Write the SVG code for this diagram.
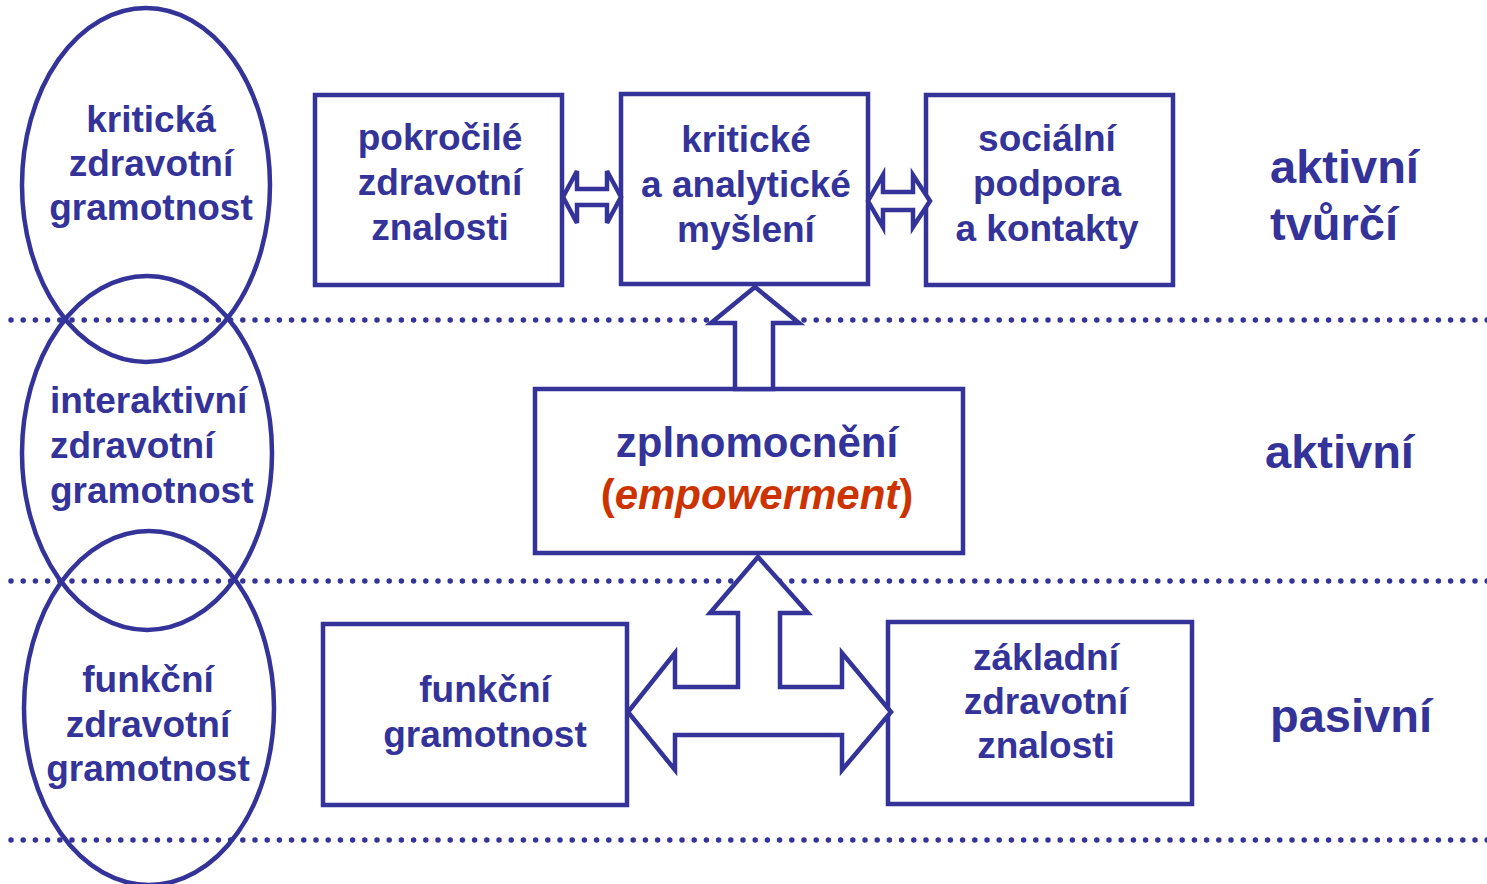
<svg xmlns="http://www.w3.org/2000/svg" width="1487" height="884" viewBox="0 0 1487 884">
<style>
.bg{fill:#fff}
.dot{stroke:#333399;stroke-width:5.5;stroke-linecap:round;stroke-dasharray:0 12.2;fill:none}
.ell{fill:none;stroke:#333399;stroke-width:4.5}
.box{fill:#fff;stroke:#333399;stroke-width:4.5}
.arr{fill:#fff;stroke:#333399;stroke-width:4.5;stroke-linejoin:miter}
text{font-family:"Liberation Sans",Arial,sans-serif;font-weight:bold;fill:#333399}
.t{font-size:37px;text-anchor:middle}
.tl{font-size:37px}
.side{font-size:47px}
.big{font-size:42px;text-anchor:middle}
.red{fill:#CC3300}
</style>
<rect class="bg" x="0" y="0" width="1487" height="884"/>
<g id="levels">
<line class="dot" x1="11" y1="320" x2="1490" y2="320"/>
<line class="dot" x1="11" y1="581" x2="1490" y2="581"/>
<line class="dot" x1="11" y1="840" x2="1490" y2="840"/>
</g>
<g id="ell-kriticka">
<ellipse class="ell" cx="146" cy="185" rx="124" ry="177"/>
<text class="t" x="151" y="132">kritická</text>
<text class="t" x="151" y="176">zdravotní</text>
<text class="t" x="151" y="220">gramotnost</text>
</g>
<g id="ell-interaktivni">
<ellipse class="ell" cx="147" cy="453" rx="125" ry="177"/>
<text class="tl" x="50" y="413">interaktivní</text>
<text class="tl" x="50" y="458">zdravotní</text>
<text class="tl" x="50" y="503">gramotnost</text>
</g>
<g id="ell-funkcni">
<ellipse class="ell" cx="149" cy="708" rx="125" ry="177"/>
<text class="t" x="148" y="692">funkční</text>
<text class="t" x="148" y="737">zdravotní</text>
<text class="t" x="148" y="781">gramotnost</text>
</g>
<g id="box-pokrocile">
<rect class="box" x="315" y="95" width="247" height="190"/>
<text class="t" x="440" y="150">pokročilé</text>
<text class="t" x="440" y="195">zdravotní</text>
<text class="t" x="440" y="240">znalosti</text>
</g>
<g id="box-kriticke">
<rect class="box" x="621" y="94" width="247" height="190"/>
<text class="t" x="746" y="152">kritické</text>
<text class="t" x="746" y="197">a analytické</text>
<text class="t" x="746" y="242">myšlení</text>
</g>
<g id="box-socialni">
<rect class="box" x="926" y="95" width="247" height="190"/>
<text class="t" x="1047" y="151">sociální</text>
<text class="t" x="1047" y="196">podpora</text>
<text class="t" x="1047" y="241">a kontakty</text>
</g>
<g id="box-zplnomocneni">
<rect class="box" x="535" y="389" width="428" height="164"/>
<text class="big" x="757" y="457">zplnomocnění</text>
<text class="big red" x="757" y="509">(<tspan font-style="italic">empowerment</tspan>)</text>
</g>
<g id="box-funkcni">
<rect class="box" x="323" y="624" width="304" height="181"/>
<text class="t" x="485" y="702">funkční</text>
<text class="t" x="485" y="747">gramotnost</text>
</g>
<g id="box-zakladni">
<rect class="box" x="888" y="622" width="304" height="182"/>
<text class="t" x="1046" y="670">základní</text>
<text class="t" x="1046" y="714">zdravotní</text>
<text class="t" x="1046" y="758">znalosti</text>
</g>
<g id="connectors">
<polygon class="arr" points="563,197 577,171 577,189 607,189 607,171 621,197 607,223 607,205 577,205 577,223"/>
<polygon class="arr" points="868,201 883,175 883,192 913,192 913,175 930,201 913,227 913,210 883,210 883,227"/>
<polygon class="arr" points="755,287 799,323 773,323 773,389 735,389 735,323 711,323"/>
<polygon class="arr" points="758,557 808,613 780,613 780,687 842,687 842,653 891,712 842,770 842,735 675,735 675,770 628,712 675,653 675,687 738,687 738,613 710,613"/>
</g>
<g id="labels">
<text class="side" x="1270" y="183">aktivní</text>
<text class="side" x="1270" y="240">tvůrčí</text>
<text class="side" x="1265" y="468">aktivní</text>
<text class="side" x="1270" y="732">pasivní</text>
</g>
</svg>
